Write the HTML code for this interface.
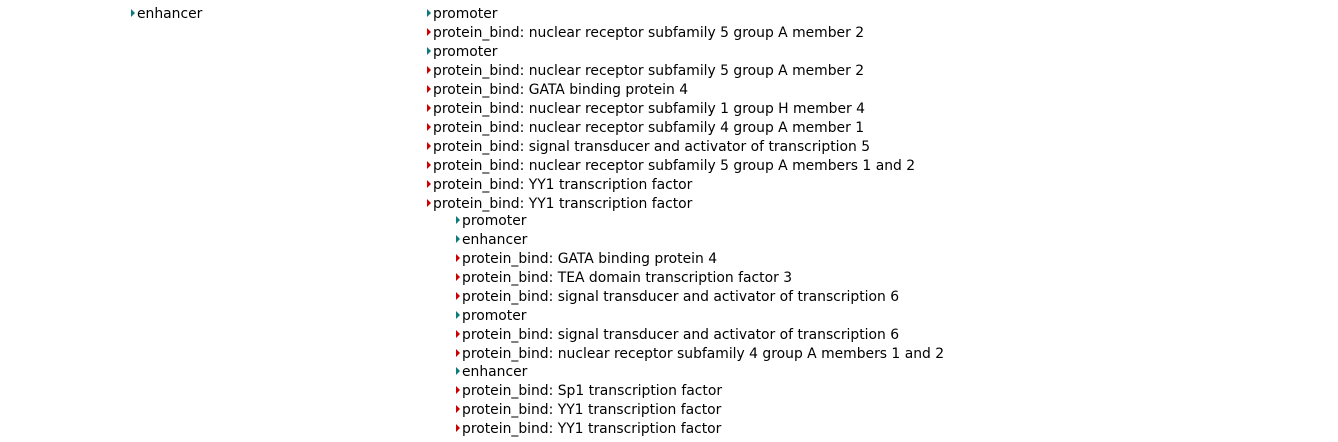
<!DOCTYPE html>
<html><head><meta charset="utf-8"><style>
body{margin:0;width:1338px;height:442px;background:#fff;position:relative;overflow:hidden;font-family:"DejaVu Sans","Liberation Sans",sans-serif;font-size:13.9px;color:#000}
.r{position:absolute;height:19px;line-height:19px;white-space:nowrap;margin-top:0.5px}
.t{display:inline-block;width:0;height:0;border-top:4px solid transparent;border-bottom:4px solid transparent;border-left:4px solid #c00;margin-right:2px;vertical-align:1px}
.g{border-left-color:#0a7a7a}
</style></head><body>
<div class="r" style="left:131px;top:4px"><span class="t g"></span>enhancer</div>
<div class="r" style="left:427px;top:4px"><span class="t g"></span>promoter</div>
<div class="r" style="left:427px;top:23px"><span class="t"></span>protein_bind: nuclear receptor subfamily 5 group A member 2</div>
<div class="r" style="left:427px;top:42px"><span class="t g"></span>promoter</div>
<div class="r" style="left:427px;top:61px"><span class="t"></span>protein_bind: nuclear receptor subfamily 5 group A member 2</div>
<div class="r" style="left:427px;top:80px"><span class="t"></span>protein_bind: GATA binding protein 4</div>
<div class="r" style="left:427px;top:99px"><span class="t"></span>protein_bind: nuclear receptor subfamily 1 group H member 4</div>
<div class="r" style="left:427px;top:118px"><span class="t"></span>protein_bind: nuclear receptor subfamily 4 group A member 1</div>
<div class="r" style="left:427px;top:137px"><span class="t"></span>protein_bind: signal transducer and activator of transcription 5</div>
<div class="r" style="left:427px;top:156px"><span class="t"></span>protein_bind: nuclear receptor subfamily 5 group A members 1 and 2</div>
<div class="r" style="left:427px;top:175px"><span class="t"></span>protein_bind: YY1 transcription factor</div>
<div class="r" style="left:427px;top:194px"><span class="t"></span>protein_bind: YY1 transcription factor</div>
<div class="r" style="left:456px;top:211px"><span class="t g"></span>promoter</div>
<div class="r" style="left:456px;top:230px"><span class="t g"></span>enhancer</div>
<div class="r" style="left:456px;top:249px"><span class="t"></span>protein_bind: GATA binding protein 4</div>
<div class="r" style="left:456px;top:268px"><span class="t"></span>protein_bind: TEA domain transcription factor 3</div>
<div class="r" style="left:456px;top:287px"><span class="t"></span>protein_bind: signal transducer and activator of transcription 6</div>
<div class="r" style="left:456px;top:306px"><span class="t g"></span>promoter</div>
<div class="r" style="left:456px;top:325px"><span class="t"></span>protein_bind: signal transducer and activator of transcription 6</div>
<div class="r" style="left:456px;top:344px"><span class="t"></span>protein_bind: nuclear receptor subfamily 4 group A members 1 and 2</div>
<div class="r" style="left:456px;top:362px"><span class="t g"></span>enhancer</div>
<div class="r" style="left:456px;top:381px"><span class="t"></span>protein_bind: Sp1 transcription factor</div>
<div class="r" style="left:456px;top:400px"><span class="t"></span>protein_bind: YY1 transcription factor</div>
<div class="r" style="left:456px;top:419px"><span class="t"></span>protein_bind: YY1 transcription factor</div>
</body></html>
